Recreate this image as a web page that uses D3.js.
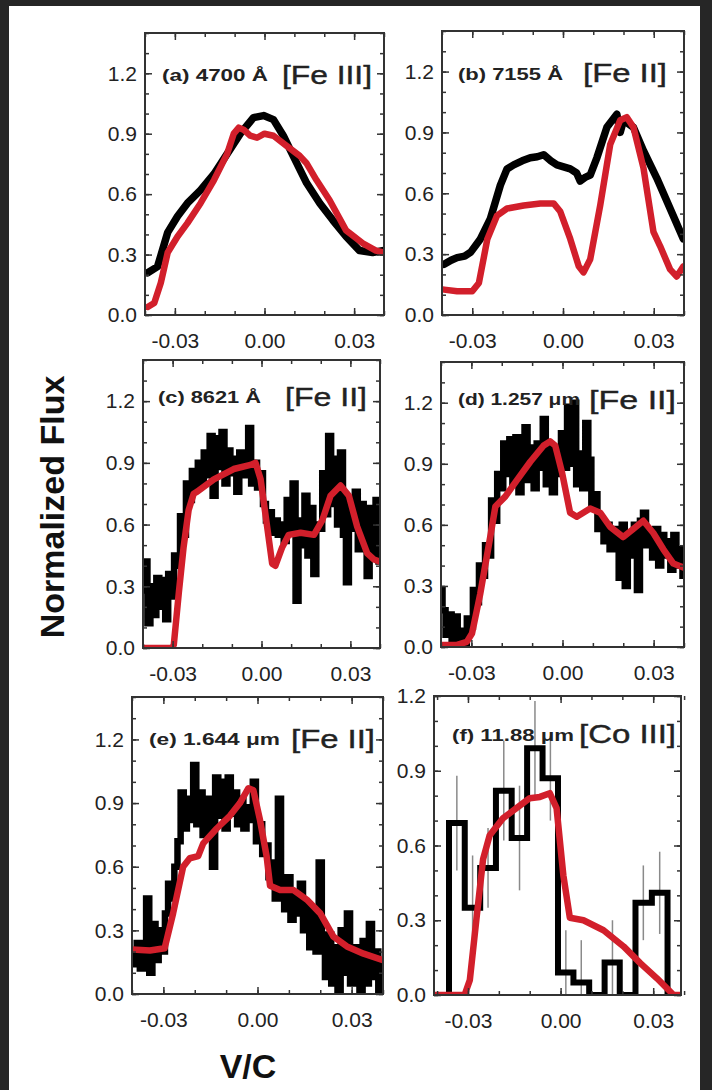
<!DOCTYPE html>
<html>
<head>
<meta charset="utf-8">
<script src="https://cdn.jsdelivr.net/npm/d3@7"></script>
<style>
body { margin: 0; background: #262626; }
svg { display: block; }
text { font-family: "Liberation Sans", Arial, sans-serif; }
</style>
</head>
<body>
<script>
//
// Data: [V/C, normalized flux]
//

// (a) 4700 A [Fe III]
var obsA = [[-0.0391,0.21],[-0.0358,0.24],[-0.0324,0.41],[-0.0291,0.49],[-0.0258,0.555],[-0.0214,0.62],
  [-0.0169,0.70],[-0.0125,0.80],[-0.0081,0.90],[-0.0037,0.98],[-0.0003,0.99],[0.003,0.97],[0.0063,0.89],
  [0.0096,0.79],[0.0141,0.655],[0.0185,0.555],[0.0229,0.47],[0.0273,0.39],[0.0318,0.32],[0.0362,0.31],[0.040,0.32]];
var modA = [[-0.0391,0.04],[-0.0369,0.06],[-0.0347,0.16],[-0.0324,0.31],[-0.0291,0.39],[-0.0258,0.456],
  [-0.0214,0.555],[-0.0169,0.67],[-0.0125,0.80],[-0.0103,0.90],[-0.0086,0.93],[-0.007,0.92],[-0.0048,0.89],
  [-0.0025,0.88],[0.000,0.90],[0.003,0.89],[0.0074,0.84],[0.0118,0.79],[0.014,0.755],[0.0174,0.67],
  [0.0218,0.57],[0.0273,0.42],[0.0329,0.356],[0.0373,0.32],[0.040,0.31]];

// (b) 7155 A [Fe II]
var obsB = [[-0.0393,0.25],[-0.037,0.27],[-0.035,0.283],[-0.0325,0.29],[-0.0305,0.31],[-0.0273,0.375],
  [-0.024,0.475],[-0.0207,0.64],[-0.0185,0.72],[-0.0163,0.74],[-0.0135,0.76],[-0.0108,0.775],[-0.0085,0.78],
  [-0.0064,0.79],[-0.004,0.76],[-0.002,0.74],[0.0024,0.72],[0.0045,0.70],[0.0057,0.66],[0.0075,0.68],
  [0.009,0.69],[0.0112,0.775],[0.0145,0.925],[0.0178,0.99],[0.0189,0.90],[0.020,0.96],[0.0233,0.925],
  [0.0266,0.81],[0.031,0.675],[0.0354,0.525],[0.0398,0.375]];
var modB = [[-0.0393,0.125],[-0.035,0.117],[-0.030,0.117],[-0.0278,0.158],[-0.025,0.375],[-0.0218,0.49],
  [-0.0185,0.525],[-0.013,0.54],[-0.0075,0.55],[-0.0031,0.55],[-0.0009,0.51],[0.0024,0.375],[0.0052,0.24],
  [0.0068,0.21],[0.009,0.275],[0.0123,0.54],[0.0156,0.84],[0.0189,0.96],[0.0211,0.975],[0.0233,0.925],
  [0.0266,0.725],[0.0299,0.41],[0.0321,0.34],[0.0354,0.225],[0.0376,0.19],[0.0398,0.24]];

// noisy spectra (c), (d), (e): sampled every 0.001 in V/C from -0.040 to 0.040
var noisyV = d3.range(81).map(function(i) { return -0.040 + i * 0.001; });
var obsC = [0.28,0.42,0.12,0.30,0.16,0.34,0.20,0.33,0.14,0.36,0.25,0.45,0.40,0.64,0.55,0.80,0.72,0.86,0.78,0.90,
  0.80,0.95,0.84,1.03,0.74,1.02,0.88,1.05,0.80,0.96,0.85,0.92,0.76,0.95,0.84,0.90,1.07,0.80,0.90,0.78,
  0.85,0.70,0.62,0.66,0.56,0.62,0.55,0.60,0.52,0.72,0.58,0.80,0.23,0.62,0.50,0.74,0.45,0.68,0.36,0.60,
  0.58,0.85,0.65,1.03,0.70,0.92,0.60,0.95,0.55,0.32,0.72,0.58,0.76,0.48,0.70,0.50,0.35,0.68,0.45,0.72,0.42];
var modC = [[-0.040,0.0],[-0.0302,0.0],[-0.0296,0.016],[-0.0279,0.27],[-0.0263,0.49],[-0.0246,0.67],
  [-0.0229,0.75],[-0.0217,0.76],[-0.0161,0.82],[-0.0094,0.87],[-0.0037,0.89],[-0.002,0.90],[-0.0003,0.82],
  [0.0019,0.59],[0.0036,0.41],[0.0047,0.40],[0.007,0.49],[0.0092,0.55],[0.0132,0.56],[0.0177,0.55],
  [0.0205,0.62],[0.0233,0.74],[0.0267,0.79],[0.0295,0.74],[0.0323,0.59],[0.0357,0.46],[0.038,0.43],[0.040,0.42]];

var obsD = [0.28,0.18,0.06,0.16,0.03,0.15,0.02,0.08,0.01,0.14,0.10,0.28,0.22,0.40,0.35,0.50,0.45,0.72,0.62,0.85,
  0.78,1.00,0.85,1.02,0.80,1.03,0.76,0.95,1.08,0.82,0.98,0.78,1.00,0.88,1.12,0.80,0.98,0.76,0.95,0.85,
  1.05,0.88,1.18,0.90,1.20,0.80,0.95,0.78,1.10,0.92,0.70,0.75,0.58,0.62,0.52,0.60,0.48,0.58,0.52,0.34,
  0.60,0.30,0.55,0.45,0.60,0.28,0.62,0.66,0.50,0.56,0.44,0.58,0.40,0.55,0.45,0.52,0.38,0.55,0.40,0.48,0.35];
var modD = [[-0.040,0.01],[-0.0347,0.01],[-0.0315,0.025],[-0.0298,0.066],[-0.0271,0.26],[-0.0238,0.54],
  [-0.0221,0.69],[-0.0188,0.74],[-0.015,0.82],[-0.0106,0.91],[-0.0062,0.99],[-0.0041,1.01],[-0.0024,0.99],
  [-0.0002,0.86],[0.0025,0.66],[0.0047,0.64],[0.0091,0.68],[0.0124,0.66],[0.0157,0.59],[0.020,0.54],
  [0.0233,0.58],[0.0266,0.62],[0.0299,0.56],[0.0332,0.48],[0.0365,0.41],[0.040,0.39]];

var obsE = [0.20,0.14,0.24,0.12,0.20,0.45,0.10,0.33,0.16,0.30,0.20,0.38,0.52,0.45,0.60,0.72,0.95,0.78,0.92,0.82,
  1.08,0.80,0.95,0.75,0.92,0.82,0.60,1.02,0.84,1.00,0.78,1.02,0.85,0.95,0.80,0.92,0.78,0.88,0.82,1.00,
  0.72,0.80,0.66,0.70,0.55,0.62,0.45,0.92,0.50,0.40,0.55,0.35,0.48,0.38,0.52,0.30,0.42,0.22,0.40,0.20,
  0.62,0.25,0.08,0.28,0.05,0.22,0.02,0.30,0.10,0.38,0.05,0.22,0.12,0.02,0.25,0.05,0.33,0.08,0.20,0.02,0.15];
var modE = [[-0.040,0.21],[-0.0343,0.205],[-0.0296,0.216],[-0.0269,0.38],[-0.0237,0.60],[-0.0216,0.64],
  [-0.0189,0.65],[-0.0173,0.71],[-0.013,0.78],[-0.0088,0.84],[-0.0056,0.90],[-0.0029,0.97],[-0.0013,0.96],
  [0.0008,0.82],[0.0029,0.65],[0.004,0.51],[0.0072,0.49],[0.0115,0.49],[0.0157,0.445],[0.020,0.38],
  [0.0242,0.27],[0.0285,0.224],[0.0338,0.19],[0.040,0.16]];

// (f) 11.88 um [Co III]: binned spectrum with error bars
var binCenter = [-0.0336,-0.0285,-0.0235,-0.0184,-0.0133,-0.0083,-0.0033,0.0017,0.0067,0.0118,0.0168,0.0217,0.0268,0.0321];
var binWidth = 0.00508;
var binFlux = [0.69,0.35,0.51,0.82,0.63,0.99,0.87,0.09,0.05,0.00,0.13,0.00,0.37,0.41];
var binErr = [0.19,0.21,0.16,0.20,0.21,0.19,0.17,0.17,0.17,0.00,0.17,0.00,0.15,0.165];
var modF = [[-0.041,0.0],[-0.0311,0.0],[-0.0294,0.06],[-0.0273,0.30],[-0.0251,0.545],[-0.023,0.64],
  [-0.0186,0.71],[-0.0143,0.75],[-0.010,0.79],[-0.0067,0.795],[-0.0035,0.81],[-0.0013,0.75],[0.0009,0.48],
  [0.003,0.31],[0.0074,0.30],[0.0139,0.26],[0.0204,0.195],[0.0258,0.128],[0.0312,0.067],[0.0366,0.0],[0.039,0.0]];

// ticks
var xMajor = [-0.03, 0, 0.03];
var xMinor = [-0.04, -0.03, -0.02, -0.01, 0, 0.01, 0.02, 0.03, 0.04];
var yMajor = [0, 0.3, 0.6, 0.9, 1.2];
var yMinor = [0, 0.1, 0.2, 0.3, 0.4, 0.5, 0.6, 0.7, 0.8, 0.9, 1.0, 1.1, 1.2, 1.3, 1.4];

//
// Layout of the six panels
//
var panels = [
  {id: "a", box: [145, 33, 384, 315], xd: [-0.04, 0.04], yMax: 1.4,
   tag: "(a) 4700 Å", tagAt: [162, 81, 106], ion: "[Fe III]", ionAt: [282, 84, 90],
   obs: obsA, mod: modA},
  {id: "b", box: [442, 31, 684, 315], xd: [-0.04, 0.04], yMax: 1.4,
   tag: "(b) 7155 Å", tagAt: [458, 80, 105], ion: "[Fe II]", ionAt: [583, 82, 84],
   obs: obsB, mod: modB},
  {id: "c", box: [143, 360, 380, 648], xd: [-0.04, 0.04], yMax: 1.4,
   tag: "(c) 8621 Å", tagAt: [158, 403, 103], ion: "[Fe II]", ionAt: [285, 406, 82],
   noisy: obsC, mod: modC},
  {id: "d", box: [441, 362, 684, 647], xd: [-0.04, 0.04], yMax: 1.4,
   tag: "(d) 1.257 μm", tagAt: [458, 405, 122], ion: "[Fe II]", ionAt: [589, 409, 87],
   noisy: obsD, mod: modD},
  {id: "e", box: [132, 697, 383, 994], xd: [-0.04, 0.04], yMax: 1.4,
   tag: "(e) 1.644 μm", tagAt: [149, 745, 131], ion: "[Fe II]", ionAt: [291, 748, 84],
   noisy: obsE, mod: modE},
  {id: "f", box: [434, 696, 681, 995], xd: [-0.041, 0.039], yMax: 1.2,
   tag: "(f) 11.88 μm", tagAt: [452, 741, 122], ion: "[Co III]", ionAt: [579, 743, 97],
   hist: true, mod: modF}
];

var W = 712, H = 1090;
var red = "#d21f2b";

var svg = d3.select("body").append("svg")
  .attr("width", W)
  .attr("height", H);

svg.append("rect").attr("width", W).attr("height", H).attr("fill", "#262626");
svg.append("rect").attr("x", 9).attr("y", 6).attr("width", 691).attr("height", H - 6).attr("fill", "#fff");

var fmtX = function(v) { return (Math.abs(v) < 1e-9 ? 0 : v).toFixed(2); };
var fmtY = function(v) { return v.toFixed(1); };

panels.forEach(drawPanel);

// shared axis titles
svg.append("text")
  .attr("transform", "translate(64,507)rotate(-90)")
  .attr("text-anchor", "middle")
  .style("font-size", "34px")
  .style("font-weight", "bold")
  .attr("fill", "#111")
  .text("Normalized Flux");

svg.append("text")
  .attr("x", 248)
  .attr("y", 1078)
  .attr("text-anchor", "middle")
  .style("font-size", "34px")
  .style("font-weight", "bold")
  .attr("fill", "#111")
  .text("V/C");

function drawPanel(p) {
  var x0 = p.box[0], y0 = p.box[1], x1 = p.box[2], y1 = p.box[3];
  var x = d3.scaleLinear().domain(p.xd).range([x0, x1]);
  var y = d3.scaleLinear().domain([0, p.yMax]).range([y1, y0]);
  var yMin = yMinor.filter(function(v) { return v <= p.yMax + 1e-9; });

  var g = svg.append("g").attr("class", "panel-" + p.id);

  g.append("clipPath").attr("id", "clip-" + p.id)
    .append("rect")
    .attr("x", x0).attr("y", y0)
    .attr("width", x1 - x0).attr("height", y1 - y0);

  var plot = g.append("g").attr("clip-path", "url(#clip-" + p.id + ")");

  var line = d3.line()
    .x(function(d) { return x(d[0]); })
    .y(function(d) { return y(d[1]); });

  // observed spectrum
  if (p.obs) {
    plot.append("path")
      .datum(p.obs)
      .attr("d", line)
      .attr("fill", "none")
      .attr("stroke", "#000")
      .attr("stroke-width", 7.5)
      .attr("stroke-linejoin", "round")
      .attr("stroke-linecap", "round");
  }

  if (p.noisy) {
    var pts = p.noisy.map(function(f, i) { return [noisyV[i], f]; });
    plot.append("path")
      .datum(pts)
      .attr("d", line.curve(d3.curveStep))
      .attr("fill", "none")
      .attr("stroke", "#000")
      .attr("stroke-width", 6.5)
      .attr("stroke-linejoin", "miter");
    line.curve(d3.curveLinear);
  }

  if (p.hist) {
    // error bars under the histogram
    var withErr = d3.range(binCenter.length).filter(function(i) { return binErr[i] > 0; });
    plot.selectAll(".err")
      .data(withErr)
      .enter().append("line")
      .attr("class", "err")
      .attr("x1", function(i) { return x(binCenter[i]); })
      .attr("x2", function(i) { return x(binCenter[i]); })
      .attr("y1", function(i) { return y(Math.max(0, binFlux[i] - binErr[i])); })
      .attr("y2", function(i) { return y(binFlux[i] + binErr[i]); })
      .attr("stroke", "#8a8a8a")
      .attr("stroke-width", 1.5);

    var hpts = [[binCenter[0] - binWidth / 2, 0]];
    binCenter.forEach(function(c, i) { hpts.push([c - binWidth / 2, binFlux[i]]); });
    hpts.push([binCenter[binCenter.length - 1] + binWidth / 2, 0]);
    plot.append("path")
      .datum(hpts)
      .attr("d", line.curve(d3.curveStepAfter))
      .attr("fill", "none")
      .attr("stroke", "#000")
      .attr("stroke-width", 6)
      .attr("stroke-linejoin", "miter");
    line.curve(d3.curveLinear);
  }

  // model
  plot.append("path")
    .datum(p.mod)
    .attr("d", line)
    .attr("fill", "none")
    .attr("stroke", red)
    .attr("stroke-width", 6.5)
    .attr("stroke-linejoin", "round")
    .attr("stroke-linecap", "round");

  // ticks, all pointing inward
  var axes = [
    {ax: d3.axisBottom(x), at: "translate(0," + y1 + ")", minor: xMinor, major: xMajor, fmt: fmtX, pad: 18},
    {ax: d3.axisTop(x), at: "translate(0," + y0 + ")", minor: xMinor, major: xMajor},
    {ax: d3.axisLeft(y), at: "translate(" + x0 + ",0)", minor: yMin, major: yMajor, fmt: fmtY, pad: 8},
    {ax: d3.axisRight(y), at: "translate(" + x1 + ",0)", minor: yMin, major: yMajor}
  ];
  axes.forEach(function(a) {
    var gm = g.append("g").attr("transform", a.at)
      .call(a.ax.tickValues(a.minor).tickSize(-4).tickSizeOuter(0).tickFormat(""));
    gm.select(".domain").remove();
    gm.selectAll("line").attr("stroke", "#333").attr("stroke-width", 1.5);

    var gM = g.append("g").attr("transform", a.at)
      .call(a.ax.tickValues(a.major).tickSize(-7).tickSizeOuter(0)
        .tickPadding(a.pad || 3).tickFormat(a.fmt || ""));
    gM.select(".domain").remove();
    gM.selectAll("line").attr("stroke", "#333").attr("stroke-width", 1.5);
    gM.selectAll("text")
      .attr("fill", "#222")
      .style("font-size", "21px")
      .style("font-family", "'Liberation Sans', Arial, sans-serif");
  });

  // frame
  g.append("rect")
    .attr("x", x0).attr("y", y0)
    .attr("width", x1 - x0).attr("height", y1 - y0)
    .attr("fill", "none")
    .attr("stroke", "#333")
    .attr("stroke-width", 2);

  // panel labels
  g.append("text")
    .attr("x", p.tagAt[0]).attr("y", p.tagAt[1])
    .attr("textLength", p.tagAt[2])
    .attr("lengthAdjust", "spacingAndGlyphs")
    .style("font-size", "17px")
    .style("font-weight", "bold")
    .attr("fill", "#222")
    .text(p.tag);

  g.append("text")
    .attr("x", p.ionAt[0]).attr("y", p.ionAt[1])
    .attr("textLength", p.ionAt[2])
    .attr("lengthAdjust", "spacingAndGlyphs")
    .style("font-size", "25px")
    .attr("fill", "#222")
    .attr("stroke", "#222")
    .attr("stroke-width", 0.4)
    .text(p.ion);
}
</script>
</body>
</html>
